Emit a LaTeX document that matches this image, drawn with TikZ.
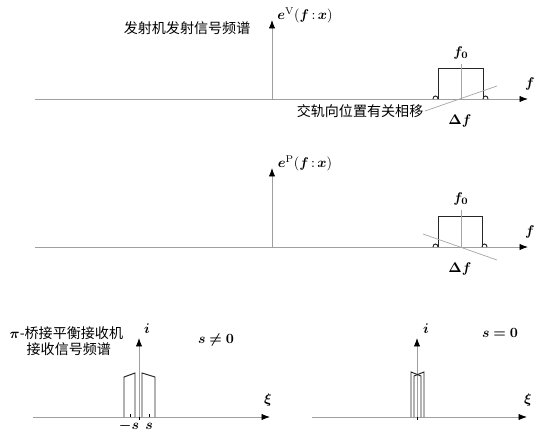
\documentclass[tikz,border=0pt]{standalone}
\usepackage{fontspec}
\usepackage{amsmath,amssymb}
\usepackage{bm}
\newfontfamily\cjk{Noto Sans CJK SC}
\usetikzlibrary{arrows.meta}

\begin{document}
\begin{tikzpicture}[x=0.025cm, y=-0.025cm,
    axis/.style={gray!75, line width=0.6pt, -{Latex[length=6pt,width=4.5pt,color=black]}},
    band/.style={black!85, line width=0.7pt},
    thin/.style={gray!70, line width=0.5pt},
    cn/.style={font=\fontsize{10}{12}\selectfont\cjk, inner sep=1pt}]

    \useasboundingbox (0,0) rectangle (547,434);

    % transmitter spectrum
    \coordinate (a1l) at (35,99);
    \coordinate (a1r) at (528,99);
    \coordinate (v1b) at (272,99);
    \coordinate (v1t) at (272,20);
    \draw[axis] (a1l) -- (a1r);
    \draw[axis] (v1b) -- (v1t);
    \node (lf1) at (530,84) {$\bm{f}$};
    \node (le1) at (305,15) {$\bm{e}^{\mathrm{V}}(\bm{f}\,{:}\,\bm{x})$};
    \node[cn, anchor=east] (tx) at (252,28) {发射机发射信号频谱};
    \draw[band] (438,99) -- (438,68) -- (483,68) -- (483,99);
    \draw[band] (433,99) .. controls (433,95) and (438,95) .. (438,99);
    \draw[band] (483,99) .. controls (483,95) and (488,95) .. (488,99);
    \node (f01) at (461,53) {$\bm{f_0}$};
    \draw[thin] (f01.south) -- (461,99);
    \coordinate (s1a) at (425,111);
    \coordinate (s1b) at (497,86);
    \draw[thin] (s1a) -- (s1b);
    \node[cn, anchor=east] (ph) at (s1a) {交轨向位置有关相移};
    \node (df1) at (460,121) {$\bm{\Delta f}$};

    % bridge spectrum
    \coordinate (a2l) at (35,247);
    \coordinate (a2r) at (528,247);
    \coordinate (v2b) at (272,247);
    \coordinate (v2t) at (272,168);
    \draw[axis] (a2l) -- (a2r);
    \draw[axis] (v2b) -- (v2t);
    \node (lf2) at (530,232) {$\bm{f}$};
    \node (le2) at (305,163) {$\bm{e}^{\mathrm{P}}(\bm{f}\,{:}\,\bm{x})$};
    \draw[band] (438,247) -- (438,216) -- (482,216) -- (482,247);
    \draw[band] (433,247) .. controls (433,243) and (438,243) .. (438,247);
    \draw[band] (482,247) .. controls (482,243) and (487,243) .. (487,247);
    \node (f02) at (461,199) {$\bm{f_0}$};
    \draw[thin] (f02.south) -- (461,247);
    \coordinate (s2a) at (423,234);
    \coordinate (s2b) at (497,260);
    \draw[thin] (s2a) -- (s2b);
    \node (df2) at (460,269) {$\bm{\Delta f}$};

    % receiver, s not zero
    \coordinate (a3l) at (33,417);
    \coordinate (a3r) at (270,417);
    \coordinate (v3b) at (139,417);
    \coordinate (v3t) at (139,338);
    \draw[axis] (a3l) -- (a3r);
    \draw[axis] (v3b) -- (v3t);
    \node (lx3) at (268,400) {$\bm{\xi}$};
    \node (li3) at (147,329) {$\bm{i}$};
    \node (ls3) at (216,340) {$\bm{s\neq 0}$};
    \node[cn, anchor=west] (rx1) at (8,333) {$\bm{\pi}$-桥接平衡接收机};
    \node[cn, anchor=west] (rx2) at (25,349) {接收信号频谱};
    \draw[band] (124,417) -- (124,377) -- (135,373) -- (135,417);
    \draw[band] (142,417) -- (142,373) -- (155,377) -- (155,417);
    \draw[black] (130,414) -- (130,417) (149,414) -- (149,417) (139,417) -- (139,420);
    \node (lm) at (129,426) {$\bm{-s}$};
    \node (lp) at (149,426) {$\bm{s}$};

    % receiver, s zero
    \coordinate (a4l) at (312,417);
    \coordinate (a4r) at (527,417);
    \coordinate (v4b) at (417,417);
    \coordinate (v4t) at (417,338);
    \draw[axis] (a4l) -- (a4r);
    \draw[axis] (v4b) -- (v4t);
    \node (lx4) at (528,400) {$\bm{\xi}$};
    \node (li4) at (426,329) {$\bm{i}$};
    \node (ls4) at (500,333) {$\bm{s=0}$};
    \draw[band] (411,417) -- (411,372) -- (421,376) -- (421,417);
    \draw[band] (414,417) -- (414,376) -- (424,372) -- (424,417);
    \draw[black] (417,417) -- (417,420);

\end{tikzpicture}
\end{document}
